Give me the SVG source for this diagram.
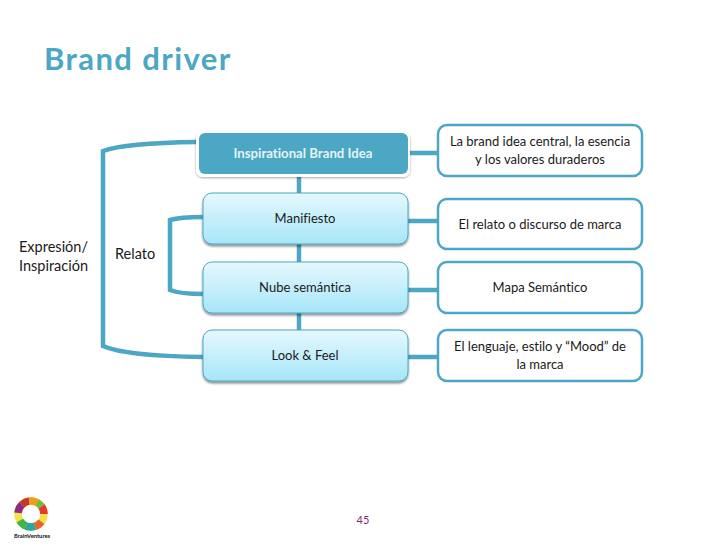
<svg xmlns="http://www.w3.org/2000/svg" width="728" height="546" viewBox="0 0 728 546">
<defs>
<linearGradient id="blue" x1="0" y1="0" x2="0" y2="1"><stop offset="0" stop-color="#e6f8fd"/><stop offset="1" stop-color="#a6e6f9"/></linearGradient>
<filter id="sh" x="-5%" y="-10%" width="110%" height="125%"><feDropShadow dx="0" dy="2" stdDeviation="1.3" flood-color="#000" flood-opacity=".45"/></filter>
<filter id="sh2" x="-5%" y="-10%" width="110%" height="125%"><feDropShadow dx="0" dy="1" stdDeviation="1.2" flood-color="#000" flood-opacity=".35"/></filter>
</defs>
<style>
text{font-family:Lato,"Liberation Sans",sans-serif;font-size:13px;fill:#1a1a1a;text-anchor:middle;font-variant-ligatures:none}
.c{fill:none;stroke:#4ba7c3;stroke-width:4.5}
.b{fill:url(#blue);stroke:#4ba7c3;stroke-width:1;filter:url(#sh)}
.r{fill:#fff;stroke:#4ba7c3;stroke-width:2.5}
.s{font-size:14.5px;text-anchor:start}
.g{fill:none;stroke-width:7.5}
</style>
<rect width="728" height="546" fill="#fff"/>
<text x="44" y="70" style="font-size:31px;font-weight:700;fill:#4ba7c3;text-anchor:start;letter-spacing:1.4px">Brand driver</text>
<g id="connectors">
<path class="c" d="M197 142Q125 143 103 151V346Q125 356 203 357"/>
<path class="c" d="M203 217Q180 217 170 220V290Q180 294 203 294"/>
<path class="c" d="M299 176V194M299 244V262M299 312V330"/>
<path class="c" d="M408 153H439M408 221H439M408 290H439M408 357H439"/>
</g>
<g id="n1"><rect x="196" y="131" width="214" height="46" rx="7" fill="#fff" filter="url(#sh2)"/><rect x="199" y="133" width="209" height="41" rx="6" fill="#4ba7c3"/><text x="303" y="158" style="font-weight:700;fill:#e4f3f7;font-size:13.2px">Inspirational Brand Idea</text></g>
<g id="n2"><rect class="b" x="203" y="193" width="205" height="51" rx="9"/><text x="305" y="223">Manifiesto</text></g>
<g id="n3"><rect class="b" x="203" y="262" width="205" height="51" rx="9"/><text x="305" y="292">Nube semántica</text></g>
<g id="n4"><rect class="b" x="203" y="330" width="205" height="51" rx="9"/><text x="305" y="360">Look &amp; Feel</text></g>
<g id="d1"><rect class="r" x="438" y="125" width="204" height="51" rx="9"/><text x="540" y="146">La brand idea central, la esencia</text><text x="540" y="164">y los valores duraderos</text></g>
<g id="d2"><rect class="r" x="438" y="199" width="204" height="50" rx="9"/><text x="540" y="229">El relato o discurso de marca</text></g>
<g id="d3"><rect class="r" x="438" y="262" width="204" height="51" rx="9"/><text x="540" y="292">Mapa Semántico</text></g>
<g id="d4"><rect class="r" x="438" y="330" width="204" height="51" rx="9"/><text x="540" y="351">El lenguaje, estilo y “Mood” de</text><text x="540" y="369">la marca</text></g>
<g id="l1"><text class="s" x="19" y="252">Expresión/</text><text class="s" x="19" y="271">Inspiración</text></g>
<g id="l2"><text class="s" x="115" y="259">Relato</text></g>
<text x="363" y="524" style="font-size:11px;fill:#8e1f77">45</text>
<g id="logo" transform="translate(31 514)">
<circle class="g" r="13" stroke="#f4e04d"/>
<circle class="g" r="13" stroke="#e8662e" stroke-dasharray="8.2 73.5" stroke-dashoffset="-8.2"/>
<circle class="g" r="13" stroke="#23a9a0" stroke-dasharray="9 72.7" stroke-dashoffset="-16.4"/>
<circle class="g" r="13" stroke="#3fb54a" stroke-dasharray="8.2 73.5" stroke-dashoffset="-25.4"/>
<circle class="g" r="13" stroke="#8e2a80" stroke-dasharray="9 72.7" stroke-dashoffset="-41.8"/>
<circle class="g" r="13" stroke="#c0392b" stroke-dasharray="8.2 73.5" stroke-dashoffset="-50.8"/>
<circle class="g" r="13" stroke="#f39a1e" stroke-dasharray="8.2 73.5" stroke-dashoffset="-59"/>
<circle class="g" r="13" stroke="#6fbe44" stroke-dasharray="6 75.7" stroke-dashoffset="-67.2"/>
<circle class="g" r="13" stroke="#e63a2e" stroke-dasharray="8.5 73.2" stroke-dashoffset="-73.2"/>
</g>
<text x="32" y="538" style="font-size:5.8px;font-weight:700;fill:#111">BrainVentures</text>
</svg>
